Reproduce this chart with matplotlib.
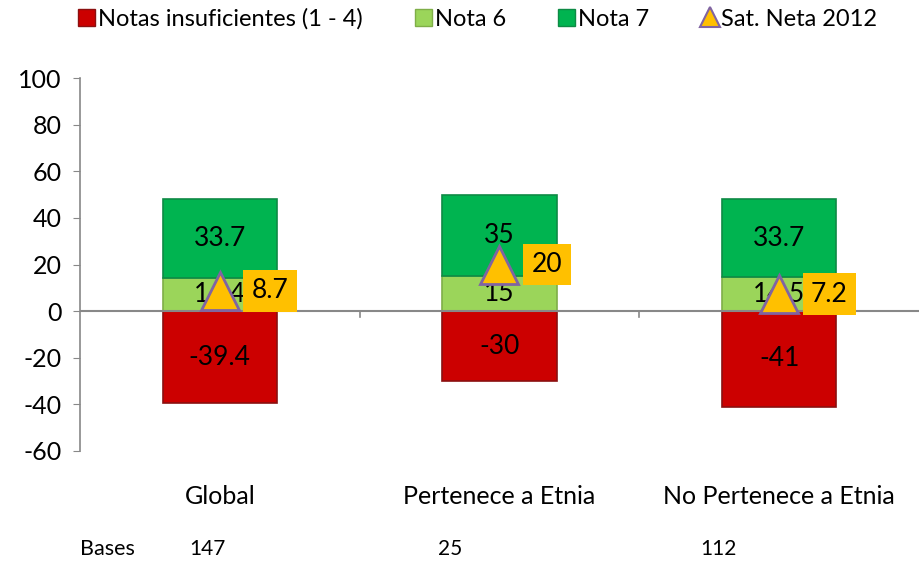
import matplotlib.pyplot as plt
from matplotlib.lines import Line2D
from matplotlib.patches import Patch

plt.rcParams['font.family'] = ['Lato', 'DejaVu Sans']
plt.rcParams['axes.unicode_minus'] = False

# Data
categories = ['Global', 'Pertenece a Etnia', 'No Pertenece a Etnia']
insuficientes = [-39.4, -30, -41]
nota6 = [14.4, 15, 14.5]
nota7 = [33.7, 35, 33.7]
sat_neta = [8.7, 20, 7.2]
bases = [147, 25, 112]

red = '#CC0000'
light_green = '#9BD55A'
dark_green = '#00B450'
orange = '#FFC000'

fig = plt.figure(figsize=(9.19, 5.65), dpi=100)
ax = fig.add_axes([80 / 919, 1 - 451 / 565, 1 - 80 / 919, (451 - 78) / 565])

x = list(range(len(categories)))
w = 0.41

ax.bar(x, insuficientes, width=w, color=red, edgecolor='#8B1010', linewidth=1.2, zorder=2)
ax.bar(x, nota6, width=w, color=light_green, edgecolor='#7FAE48', linewidth=1.2, zorder=2)
ax.bar(x, nota7, width=w, bottom=nota6, color=dark_green, edgecolor='#0E8A45', linewidth=1.2, zorder=2)

for i in x:
    ax.text(i, insuficientes[i] / 2, f'{insuficientes[i]:g}', ha='center', va='center', fontsize=19, zorder=4)
    ax.text(i, nota6[i] / 2, f'{nota6[i]:g}', ha='center', va='center', fontsize=19, zorder=4)
    ax.text(i, nota6[i] + nota7[i] / 2, f'{nota7[i]:g}', ha='center', va='center', fontsize=19, zorder=4)

ax.plot(x, sat_neta, linestyle='none', marker='^', markersize=27, markerfacecolor=orange,
        markeredgecolor='#8064A2', markeredgewidth=2, zorder=5)
for i in x:
    ax.annotate(f'{sat_neta[i]:g}', (i, sat_neta[i]), xytext=(23, 0), textcoords='offset points',
                ha='left', va='center', fontsize=19, zorder=6,
                bbox=dict(boxstyle='square,pad=0.32', facecolor=orange, edgecolor='none'))

ax.set_xlim(-0.5, 2.5)
ax.set_ylim(-60, 100)
ax.set_yticks(range(-60, 101, 20))
ax.tick_params(axis='y', labelsize=18, length=5, color='#888888', pad=8)

# zero line with category separators
ax.axhline(0, color='#888888', linewidth=1.5, zorder=3)
for b in [0.5, 1.5]:
    ax.plot([b, b], [0, -2.5], color='#888888', linewidth=1.2, zorder=3)
ax.set_xticks([])

for s in ['top', 'right', 'bottom']:
    ax.spines[s].set_visible(False)
ax.spines['left'].set_color('#888888')
ax.spines['left'].set_linewidth(1.2)

# category labels and bases
for i, c in enumerate(categories):
    ax.text(i, -79.5, c, ha='center', va='center', fontsize=18)
fig.text(80 / 919, 1 - 549 / 565, 'Bases', ha='left', va='center', fontsize=15.5)
base_x = [189, 438, 700]
for bx, b in zip(base_x, bases):
    fig.text(bx / 919, 1 - 549 / 565, str(b), ha='left', va='center', fontsize=15)

handles = [
    Patch(facecolor=red, edgecolor='#8B1010'),
    Patch(facecolor=light_green, edgecolor='#7FAE48'),
    Patch(facecolor=dark_green, edgecolor='#0E8A45'),
    Line2D([], [], linestyle='none', marker='^', markersize=14, markerfacecolor=orange,
           markeredgecolor='#8064A2', markeredgewidth=1.5),
]
labels = ['Notas insuficientes (1 - 4)', 'Nota 6', 'Nota 7', 'Sat. Neta 2012']
fig.legend(handles, labels, loc='center', bbox_to_anchor=(0.52, 1 - 19 / 565), ncol=4, frameon=False,
           fontsize=17, handlelength=0.7, handletextpad=0.15, columnspacing=2.2)

fig.savefig('out.png', dpi=100)
